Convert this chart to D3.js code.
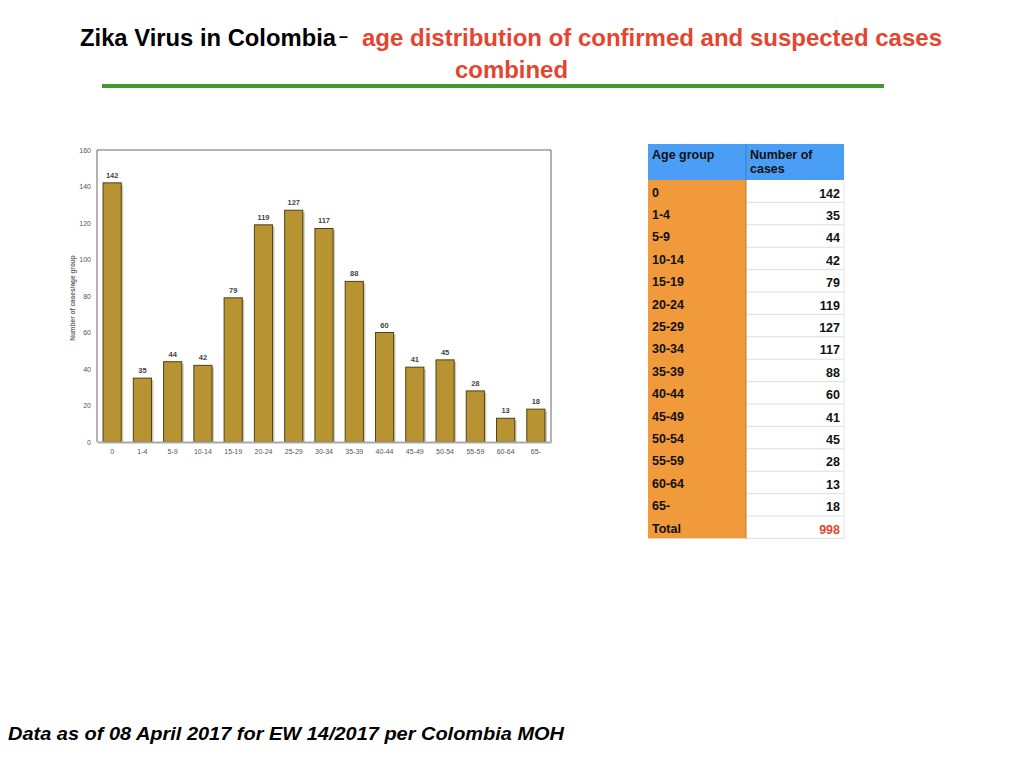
<!DOCTYPE html>
<html>
<head>
<meta charset="utf-8">
<script src="https://cdn.jsdelivr.net/npm/d3@7"></script>
<style>
  body { margin: 0; background: #fff; }
  svg { display: block; font-family: "Liberation Sans", Arial, sans-serif; }
</style>
</head>
<body>
<svg id="chart" width="1024" height="768"></svg>
<script>
// age groups and counts
const ageGroups = ["0", "1-4", "5-9", "10-14", "15-19", "20-24", "25-29", "30-34", "35-39", "40-44", "45-49", "50-54", "55-59", "60-64", "65-"];
const cases = [142, 35, 44, 42, 79, 119, 127, 117, 88, 60, 41, 45, 28, 13, 18];
const yTicks = [0, 20, 40, 60, 80, 100, 120, 140, 160];
const tableHeader = ["Age group", "Number of cases"];

const svg = d3.select("#chart");

// title (condensed look: squeeze glyphs to the slide's widths)
const title = svg.append("text")
    .attr("x", 80)
    .attr("y", 46)
    .attr("font-size", 24)
    .attr("font-weight", "bold");
title.append("tspan")
    .attr("fill", "#000")
    .attr("textLength", 256)
    .attr("lengthAdjust", "spacingAndGlyphs")
    .text("Zika Virus in Colombia");
title.append("tspan")
    .attr("fill", "#000")
    .attr("dx", 3)
    .attr("dy", -4)
    .attr("font-size", 16)
    .text("–");
title.append("tspan")
    .attr("x", 362)
    .attr("dy", 4)
    .attr("fill", "#e5452e")
    .attr("textLength", 580)
    .attr("lengthAdjust", "spacingAndGlyphs")
    .text("age distribution of confirmed and suspected cases");

svg.append("text")
    .attr("x", 455)
    .attr("y", 78)
    .attr("font-size", 24)
    .attr("font-weight", "bold")
    .attr("fill", "#e5452e")
    .attr("textLength", 113)
    .attr("lengthAdjust", "spacingAndGlyphs")
    .text("combined");

svg.append("line")
    .attr("x1", 102).attr("x2", 884)
    .attr("y1", 86).attr("y2", 86)
    .attr("stroke", "#3f992f")
    .attr("stroke-width", 4);

// bar chart
const plot = { left: 97, right: 551, top: 150, bottom: 442 };

const x = d3.scaleBand()
    .domain(ageGroups)
    .range([plot.left, plot.right])
    .paddingInner(0.4)
    .paddingOuter(0.2);

const y = d3.scaleLinear()
    .domain([0, 160])
    .range([plot.bottom, plot.top]);

const g = svg.append("g");

// frame
g.append("path")
    .attr("d", `M${plot.left},${plot.bottom} V${plot.top} H${plot.right} V${plot.bottom}`)
    .attr("fill", "none")
    .attr("stroke", "#666")
    .attr("stroke-width", 1);

const yAxis = g.append("g")
    .attr("transform", `translate(${plot.left},0)`)
    .call(d3.axisLeft(y).tickValues(yTicks).tickSize(0).tickPadding(6));
yAxis.select(".domain").remove();
yAxis.selectAll("text")
    .attr("font-size", 7)
    .attr("fill", "#555")
    .attr("font-family", "Liberation Sans, Arial, sans-serif");

// bar shadows
g.selectAll("rect.shadow")
    .data(cases)
    .join("rect")
    .attr("class", "shadow")
    .attr("x", (d, i) => x(ageGroups[i]) + 2)
    .attr("y", d => y(d) + 2)
    .attr("width", x.bandwidth())
    .attr("height", d => plot.bottom - y(d) - 2)
    .attr("fill", "#cfc9b8");

g.selectAll("rect.bar")
    .data(cases)
    .join("rect")
    .attr("class", "bar")
    .attr("x", (d, i) => x(ageGroups[i]))
    .attr("y", d => y(d))
    .attr("width", x.bandwidth())
    .attr("height", d => plot.bottom - y(d))
    .attr("fill", "#b89332")
    .attr("stroke", "#4e4116")
    .attr("stroke-width", 1);

g.selectAll("text.val")
    .data(cases)
    .join("text")
    .attr("class", "val")
    .attr("x", (d, i) => x(ageGroups[i]) + x.bandwidth() / 2)
    .attr("y", d => y(d) - 5)
    .attr("text-anchor", "middle")
    .attr("font-size", 7.5)
    .attr("font-weight", "bold")
    .attr("fill", "#444")
    .text(d => d);

// x axis
const xAxis = g.append("g")
    .attr("transform", `translate(0,${plot.bottom})`)
    .call(d3.axisBottom(x).tickSize(0).tickPadding(7));
xAxis.select(".domain")
    .attr("stroke", "#aaa")
    .attr("stroke-width", 2);
xAxis.selectAll("text")
    .attr("font-size", 7)
    .attr("fill", "#555")
    .attr("font-family", "Liberation Sans, Arial, sans-serif");

g.append("text")
    .attr("transform", `translate(75,${(plot.top + plot.bottom) / 2 + 2}) rotate(-90)`)
    .attr("text-anchor", "middle")
    .attr("font-size", 6.5)
    .attr("font-weight", "bold")
    .attr("fill", "#666")
    .text("Number of cases/age group");

// table
const tbl = { left: 648, mid: 746, right: 844, top: 144, headH: 36, rowH: 22.4 };
const rows = ageGroups.map((a, i) => ({ label: a, value: cases[i], total: false }));
rows.push({ label: "Total", value: d3.sum(cases), total: true });

const t = svg.append("g").attr("font-size", 12.5).attr("font-weight", "bold");

t.append("rect")
    .attr("x", tbl.left).attr("y", tbl.top)
    .attr("width", tbl.right - tbl.left).attr("height", tbl.headH)
    .attr("fill", "#4a9ef5");
t.append("line")
    .attr("x1", tbl.mid).attr("x2", tbl.mid)
    .attr("y1", tbl.top).attr("y2", tbl.top + tbl.headH)
    .attr("stroke", "#3b7fc4");
t.append("text")
    .attr("x", tbl.left + 4).attr("y", tbl.top + 15)
    .attr("fill", "#111")
    .text(tableHeader[0]);
t.append("text")
    .attr("x", tbl.mid + 4).attr("y", tbl.top + 15)
    .attr("fill", "#111")
    .selectAll("tspan")
    .data(["Number of", "cases"])
    .join("tspan")
    .attr("x", tbl.mid + 4)
    .attr("dy", (d, i) => i === 0 ? 0 : 14)
    .text(d => d);

const bodyTop = tbl.top + tbl.headH;
t.append("rect")
    .attr("x", tbl.left).attr("y", bodyTop)
    .attr("width", tbl.mid - tbl.left).attr("height", rows.length * tbl.rowH)
    .attr("fill", "#f09a3b");

const row = t.selectAll("g.row")
    .data(rows)
    .join("g")
    .attr("class", "row")
    .attr("transform", (d, i) => `translate(0,${bodyTop + i * tbl.rowH})`);

row.append("line")
    .attr("x1", tbl.mid).attr("x2", tbl.right)
    .attr("y1", tbl.rowH).attr("y2", tbl.rowH)
    .attr("stroke", "#ddd");
row.append("line")
    .attr("x1", tbl.right).attr("x2", tbl.right)
    .attr("y1", 0).attr("y2", tbl.rowH)
    .attr("stroke", "#e4e4e4");
row.append("text")
    .attr("x", tbl.left + 4)
    .attr("y", 16.5)
    .attr("fill", "#111")
    .text(d => d.label);
row.append("text")
    .attr("x", tbl.right - 4)
    .attr("y", 17.5)
    .attr("text-anchor", "end")
    .attr("fill", d => d.total ? "#e5452e" : "#111")
    .text(d => d.value);

t.append("line")
    .attr("x1", tbl.mid).attr("x2", tbl.mid)
    .attr("y1", bodyTop).attr("y2", bodyTop + rows.length * tbl.rowH)
    .attr("stroke", "#b9782e");

// footer
svg.append("text")
    .attr("x", 8)
    .attr("y", 740)
    .attr("font-size", 19)
    .attr("font-weight", "bold")
    .attr("font-style", "italic")
    .attr("fill", "#000")
    .attr("textLength", 556)
    .attr("lengthAdjust", "spacingAndGlyphs")
    .text("Data as of 08 April 2017 for EW 14/2017 per Colombia MOH");
</script>
</body>
</html>
